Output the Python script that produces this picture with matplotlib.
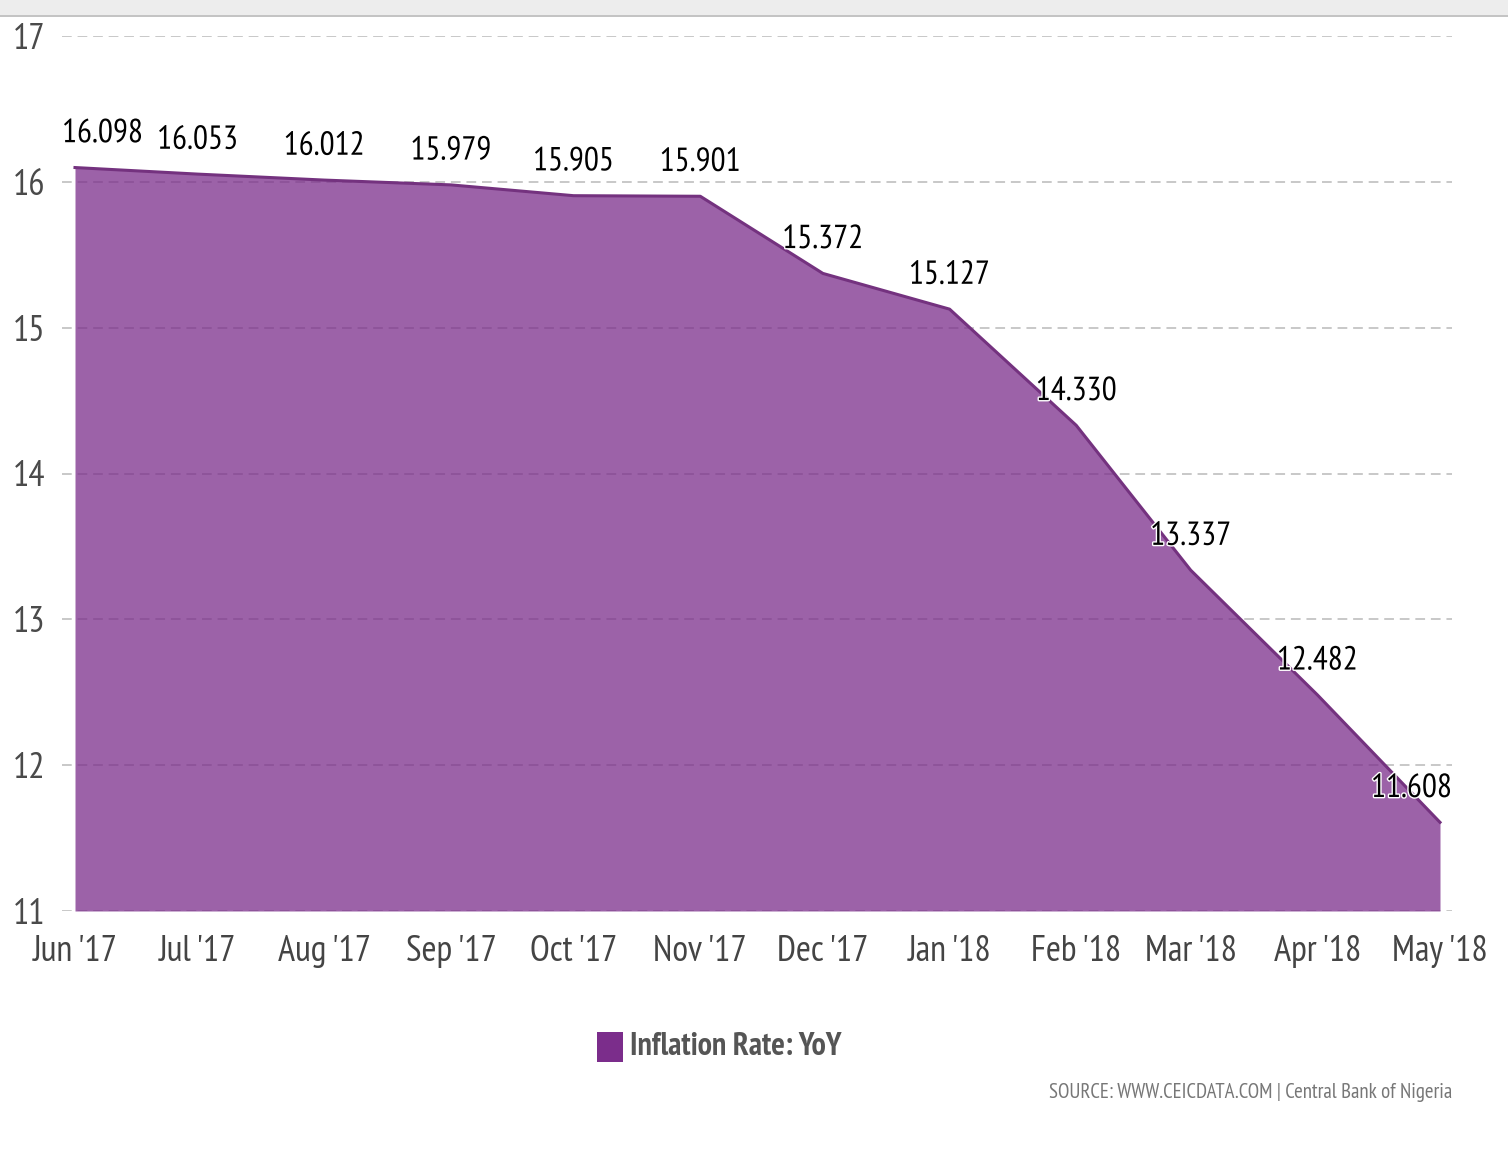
import matplotlib
matplotlib.use("Agg")
import matplotlib.pyplot as plt
import matplotlib.dates as mdates
import matplotlib.patheffects as pe
from matplotlib.patches import Rectangle
from matplotlib import font_manager as fm
import datetime as dt

months = ["2017-06", "2017-07", "2017-08", "2017-09", "2017-10", "2017-11",
          "2017-12", "2018-01", "2018-02", "2018-03", "2018-04", "2018-05"]
tick_labels = ["Jun '17", "Jul '17", "Aug '17", "Sep '17", "Oct '17", "Nov '17",
               "Dec '17", "Jan '18", "Feb '18", "Mar '18", "Apr '18", "May '18"]
values = [16.098, 16.053, 16.012, 15.979, 15.905, 15.901,
          15.372, 15.127, 14.330, 13.337, 12.482, 11.608]
yticks = [11, 12, 13, 14, 15, 16, 17]
series_name = "Inflation Rate: YoY"
source_text = "SOURCE: WWW.CEICDATA.COM | Central Bank of Nigeria"

available = {f.name for f in fm.fontManager.ttflist}
candidates = ["PT Sans Narrow", "Roboto Condensed", "Liberation Sans Narrow",
              "Archivo Narrow", "Asap Condensed", "Barlow Semi Condensed"]
chosen = [c for c in candidates if c in available][:1]
FONT = chosen + ["DejaVu Sans"]
plt.rcParams['font.family'] = FONT

dates = [dt.datetime.strptime(m, "%Y-%m") for m in months]
W, H = 1508, 1162
fig = plt.figure(figsize=(W / 100, H / 100), dpi=100)
ax = fig.add_axes([62 / W, 1 - 911 / H, (1452 - 62) / W, (911 - 36) / H])

color = "#7B2D8B"
ax.fill_between(dates, values, 11, color=color, alpha=0.75, lw=0, zorder=2)
ax.plot(dates, values, color="#74327F", lw=2.2, zorder=3)

ax.set_ylim(11, 17)
x0 = mdates.date2num(dates[0]) - 13 / 4.0868
x1 = mdates.date2num(dates[-1]) + 12 / 4.0868
ax.set_xlim(x0, x1)

ax.set_yticks(yticks)
ax.set_yticklabels([str(v) for v in yticks], fontsize=26, color="#4a4a4a")
ax.set_xticks(dates)
ax.set_xticklabels(tick_labels, fontsize=26, color="#444444")
ax.tick_params(axis='y', length=0, pad=12)
ax.tick_params(axis='x', length=0, pad=17)

ax.yaxis.grid(True, color="#c8c8c8", linestyle=(0, (5, 3)), lw=1.4, zorder=1)
ax.set_axisbelow(True)
for s in ax.spines.values():
    s.set_visible(False)

n = len(values)
for i, (d, v) in enumerate(zip(dates, values)):
    if i == 0:
        ha, dx = 'left', -13
    elif i == n - 1:
        ha, dx = 'right', 12
    else:
        ha, dx = 'center', 0
    ax.annotate(f"{v:.3f}", xy=(d, v), xytext=(dx * 0.72, 24), textcoords='offset points',
                ha=ha, va='center', fontsize=24, color="black", zorder=5,
                path_effects=[pe.withStroke(linewidth=2.0, foreground="white")])

# header strip
fig.patches.append(Rectangle((0, 1 - 15 / H), 1, 15 / H, transform=fig.transFigure,
                             facecolor="#ededed", edgecolor="none", zorder=0))
fig.patches.append(Rectangle((0, 1 - 17 / H), 1, 2 / H, transform=fig.transFigure,
                             facecolor="#c4c4c4", edgecolor="none", zorder=0))

# legend
fig.patches.append(Rectangle((597 / W, 1 - 1062 / H), 26 / W, 30 / H, transform=fig.transFigure,
                             facecolor=color, edgecolor="none"))
fig.text(630 / W, 1 - 1047 / H, series_name, fontsize=23, fontweight='bold',
         color="#555555", ha='left', va='center')

fig.text(1452 / W, 1 - 1093 / H, source_text, fontsize=15, color="#777777",
         ha='right', va='center')

fig.savefig("out.png", dpi=100, facecolor="white")
